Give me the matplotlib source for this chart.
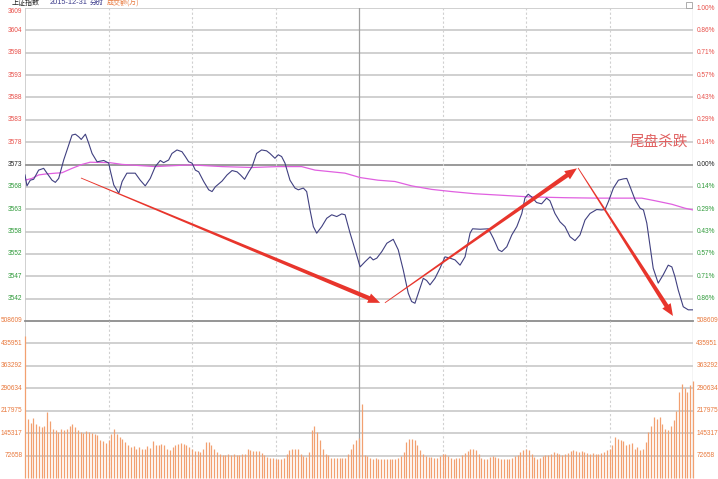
import numpy as np
import matplotlib
matplotlib.use("Agg")
import matplotlib.pyplot as plt
from matplotlib.patches import Polygon, Rectangle
from matplotlib.transforms import IdentityTransform

plt.rcParams['font.family'] = ['Noto Sans CJK SC', 'DejaVu Sans']

# ---------------- data ----------------
prev_close = 3572.88
title_date = "2015-12-31"

price_min = [0, 0.7, 1.9, 3.1, 4.9, 6.7, 7.9, 9.7, 10.9, 12.1, 13.9, 15.1, 16.9, 18.1, 19.3, 20.2,
             21.7, 22.9, 24.1, 25.9, 28.3, 30.1, 30.6, 31.9, 33.7, 34.9, 36.6, 39.6, 41.4, 43.2,
             45.0, 46.8, 48.6, 49.8, 51.6, 52.8, 54.6, 56.4, 57.6, 58.8, 60.0, 61.2, 62.4, 64.2,
             66.0, 67.2, 68.4, 70.8, 72.6, 74.4, 76.2, 77.4, 78.9, 80.4, 81.6, 83.2, 85.0, 86.8,
             88.0, 89.8, 91.0, 92.2, 93.4, 95.2, 97.0, 98.2, 100.0, 101.2, 102.4, 103.6, 104.8,
             106.6, 108.4, 110.2, 112.0, 113.8, 115.0, 116.8, 118.6, 120.4, 122.2, 124.0, 125.1,
             126.4, 128.2, 130.0, 132.3, 134.1, 135.9, 137.7, 138.9, 140.1, 141.3, 143.1, 144.3,
             145.5, 147.3, 149.1, 150.9, 152.7, 154.5, 156.3, 158.1, 159.9, 160.8, 163.5, 166.5,
             168.3, 170.1, 171.3, 173.1, 174.9, 176.7, 178.5, 179.6, 180.8, 182.0, 183.8, 185.6,
             187.4, 188.6, 190.4, 192.2, 194.0, 195.8, 197.6, 199.4, 201.2, 203.0, 205.4, 207.2,
             208.4, 209.6, 211.4, 213.2, 215.0, 216.2, 217.4, 219.2, 221.0, 222.2, 223.4, 224.6,
             225.7, 227.5, 229.3, 231.1, 232.4, 233.5, 234.7, 236.5, 238.3, 240.0]
price_val = [3570.5, 3568.0, 3569.3, 3569.5, 3571.6, 3572.0, 3570.9, 3569.3, 3568.8, 3569.7, 3573.9,
             3576.2, 3579.6, 3579.8, 3579.2, 3578.6, 3579.8, 3577.7, 3575.4, 3573.5, 3573.8, 3573.2,
             3571.6, 3568.2, 3566.3, 3569.0, 3570.9, 3570.9, 3569.3, 3568.0, 3569.7, 3572.4, 3573.8,
             3573.3, 3573.9, 3575.4, 3576.2, 3575.8, 3574.7, 3573.5, 3573.2, 3571.6, 3571.2, 3569.0,
             3567.1, 3566.7, 3567.8, 3569.1, 3570.5, 3571.5, 3571.2, 3570.5, 3569.5, 3571.2, 3572.4,
             3575.4, 3576.2, 3576.0, 3575.4, 3574.3, 3575.1, 3574.7, 3573.2, 3569.3, 3567.5, 3567.1,
             3567.5, 3566.7, 3562.5, 3558.7, 3557.2, 3558.7, 3560.6, 3561.4, 3561.0, 3561.6, 3561.4,
             3557.2, 3553.4, 3549.5, 3550.7, 3551.8, 3551.1, 3551.5, 3553.0, 3554.9, 3555.8, 3553.4,
             3548.8, 3543.5, 3541.6, 3541.2, 3543.5, 3546.9, 3546.4, 3545.4, 3546.9, 3549.2, 3551.8,
             3551.5, 3551.1, 3549.9, 3551.8, 3557.2, 3558.2, 3558.1, 3558.2, 3556.0, 3553.4, 3553.0,
             3554.1, 3556.8, 3558.7, 3561.7, 3565.2, 3566.1, 3565.5, 3564.2, 3563.9, 3565.2, 3564.6,
             3561.7, 3559.8, 3558.7, 3556.4, 3555.5, 3556.8, 3560.2, 3561.7, 3562.6, 3562.5, 3562.6,
             3564.4, 3567.5, 3569.3, 3569.6, 3569.7, 3567.8, 3564.8, 3562.9, 3562.5, 3559.5, 3554.1,
             3549.2, 3545.8, 3547.7, 3549.9, 3549.5, 3547.3, 3544.2, 3540.4, 3539.7, 3539.7]

avg_min = [0, 2.5, 4.9, 7.3, 10.9, 13.3, 16.9, 20.5, 23.4, 30.5, 34.9, 46.8, 59.3, 70.8, 81.6, 90.9,
           99.4, 104.2, 115.0, 120.4, 126.8, 132.9, 138.9, 146.1, 153.3, 161.7, 170.1, 180.8, 194.0,
           206.0, 221.6, 226.4, 232.4, 237.1, 240.0]
avg_val = [3569.3, 3569.7, 3570.5, 3570.7, 3570.9, 3571.0, 3572.0, 3572.9, 3573.4, 3573.3, 3572.9,
           3572.4, 3572.8, 3572.4, 3572.2, 3572.4, 3572.4, 3571.6, 3570.9, 3569.9, 3569.3, 3569.0,
           3568.0, 3567.2, 3566.7, 3566.2, 3565.9, 3565.5, 3565.3, 3565.2, 3565.2, 3564.6, 3563.8,
           3562.9, 3562.5]

volume = [460000, 192000, 178000, 195000, 176000, 167000, 165000, 167000, 213000, 186000,
          160000, 156000, 149000, 160000, 154000, 160000, 167000, 176000, 165000, 154000,
          149000, 147000, 152000, 149000, 146000, 144000, 138000, 122000, 119000, 114000,
          122000, 144000, 160000, 144000, 133000, 127000, 117000, 106000, 101000, 103000,
          95000, 101000, 95000, 95000, 103000, 97000, 120000, 106000, 106000, 111000,
          106000, 95000, 92000, 101000, 106000, 109000, 114000, 111000, 106000, 101000,
          95000, 88000, 88000, 85000, 95000, 117000, 117000, 106000, 95000, 85000,
          77000, 74000, 74000, 77000, 74000, 77000, 74000, 74000, 77000, 79000,
          95000, 90000, 88000, 88000, 88000, 81000, 74000, 69000, 66000, 66000,
          63000, 60000, 60000, 66000, 77000, 90000, 95000, 95000, 95000, 77000,
          71000, 69000, 85000, 154000, 170000, 149000, 122000, 95000, 77000, 74000,
          66000, 66000, 66000, 66000, 66000, 66000, 77000, 95000, 110000, 122000,
          130000, 240000, 74000, 71000, 66000, 63000, 66000, 63000, 63000, 60000,
          60000, 63000, 63000, 63000, 66000, 71000, 85000, 117000, 127000, 127000,
          122000, 106000, 92000, 77000, 71000, 69000, 69000, 66000, 66000, 71000,
          77000, 77000, 71000, 66000, 63000, 66000, 66000, 74000, 81000, 88000,
          95000, 95000, 90000, 79000, 66000, 63000, 60000, 69000, 71000, 69000,
          66000, 63000, 63000, 61000, 63000, 66000, 71000, 74000, 85000, 92000,
          95000, 90000, 79000, 69000, 63000, 66000, 71000, 74000, 74000, 77000,
          85000, 81000, 77000, 74000, 79000, 81000, 88000, 90000, 88000, 85000,
          88000, 85000, 81000, 79000, 81000, 79000, 79000, 81000, 85000, 90000,
          95000, 106000, 133000, 127000, 124000, 120000, 106000, 111000, 114000, 95000,
          101000, 90000, 95000, 117000, 149000, 170000, 199000, 192000, 199000, 176000,
          160000, 154000, 170000, 188000, 218000, 277000, 304000, 293000, 277000, 302000,
          315000]

price_labels = ['3609', '3604', '3598', '3593', '3588', '3583', '3578', '3573',
                '3568', '3563', '3558', '3552', '3547', '3542']
pct_labels = ['1.00%', '0.86%', '0.71%', '0.57%', '0.43%', '0.29%', '0.14%', '0.00%',
              '0.14%', '0.29%', '0.43%', '0.57%', '0.71%', '0.86%']
vol_ticks = [508609, 435951, 363292, 290634, 217975, 145317, 72658]
vol_labels = ['508609', '435951', '363292', '290634', '217975', '145317', '72658']

annot_text = "尾盘杀跌"

# ---------------- style ----------------
W, H = 718, 479
RED = '#e8504a'
GREEN = '#2f9a3a'
ORANGE = '#e8783c'
GRID = '#c4c4c4'
LINE = '#404080'
AVG = '#e060e0'
BAR = '#f2a070'
ARROW = '#e8352c'
NUMFONT = ['Liberation Sans', 'DejaVu Sans']

fig = plt.figure(figsize=(W / 100, H / 100), dpi=100)
fig.patch.set_facecolor('white')

xl, xr = 25, 693
y_top, y_mid, y_bot = 8, 321, 478
ax = fig.add_axes([xl / W, 1 - y_mid / H, (xr - xl) / W, (y_mid - y_top) / H])
axv = fig.add_axes([xl / W, 1 - y_bot / H, (xr - xl) / W, (y_bot - y_mid) / H])

pmin, pmax = prev_close * 0.99, prev_close * 1.01
ax.set_xlim(0, 240)
ax.set_ylim(pmin, pmax)
axv.set_xlim(0, 240)
axv.set_ylim(0, vol_ticks[0])

for a in (ax, axv):
    for s in a.spines.values():
        s.set_visible(False)
    a.set_xticks([])
    a.set_yticks([])

# horizontal grid in price panel
levels = [prev_close * (1 + k / 700) for k in range(7, -8, -1)]
for k, lv in zip(range(7, -8, -1), levels):
    if k == 0:
        ax.axhline(lv, color='#9a9a9a', lw=1.4, zorder=1)
    elif k == -7:
        pass
    else:
        ax.axhline(lv, color=GRID, lw=1.1, zorder=1)
# horizontal grid in volume panel
for i, v in enumerate(vol_ticks):
    if i == 0:
        axv.axhline(v, color='#8c8c8c', lw=1.3, zorder=1, clip_on=False)
    else:
        axv.axhline(v, color=GRID, lw=1.1, zorder=1)

# vertical grid
for a in (ax, axv):
    for xv in range(30, 240, 30):
        if xv == 120:
            a.axvline(xv, color='#a0a0a0', lw=0.9, zorder=1)
        else:
            a.axvline(xv, color='#d0d0d0', lw=0.8, ls=(0, (2, 2)), zorder=1)
    a.axvline(0, color='#c8c8c8', lw=1.2, zorder=0.5)
    a.axvline(240, color='#c8c8c8', lw=1.0, zorder=0.5)

# series
ax.plot(avg_min, avg_val, color=AVG, lw=0.9, zorder=3)
ax.plot(price_min, price_val, color=LINE, lw=0.8, zorder=4)
minutes = np.arange(len(volume))
axv.vlines(minutes, 0, volume, color=BAR, lw=0.9, zorder=2, clip_on=False)

# axis labels
fs = 4.7
for k, lv, pl, cl in zip(range(7, -7, -1), levels, price_labels, pct_labels):
    col = RED if k > 0 else ('#222222' if k == 0 else GREEN)
    va = 'top' if k == 7 else 'center'
    ax.text(-0.9, lv, pl, color=col, fontsize=fs, ha='right', va=va,
            clip_on=False, family=NUMFONT)
    ax.text(1.005, lv, cl, color=col, fontsize=fs, ha='left', va='center',
            transform=ax.get_yaxis_transform(), clip_on=False, family=NUMFONT)
for v, lab in zip(vol_ticks, vol_labels):
    axv.text(-0.9, v, lab, color=ORANGE, fontsize=fs, ha='right', va='center', clip_on=False,
             family=NUMFONT)
    axv.text(1.005, v, lab, color=ORANGE, fontsize=fs, ha='left', va='center', clip_on=False,
             transform=axv.get_yaxis_transform(), family=NUMFONT)

# header
hy = 1 - 3.0 / H
fig.text(12 / W, hy, "上证指数", fontsize=5.0, color='#222222', va='center', ha='left')
fig.text(50 / W, hy, title_date, fontsize=5.3, color='#3a3a8a', va='center', ha='left',
         family=NUMFONT)
fig.text(90 / W, hy, "分时", fontsize=5.0, color='#3a3a8a', va='center', ha='left')
fig.text(107 / W, hy, "成交额(万)", fontsize=5.0, color=ORANGE, va='center', ha='left')
fig.add_artist(Rectangle((686 / W, 1 - 8 / H), 6 / W, 6 / H, transform=fig.transFigure,
                         fill=False, ec='#a0a0a0', lw=0.6))

# annotation text
ax.text(227.8, 3578.0, annot_text, color='#e06060', fontsize=10.5, ha='center', va='center',
        zorder=6)

# tapered arrows
arrows = [((20.1, 3569.8), (127.6, 3541.3)),
          ((129.3, 3541.3), (198.3, 3572.0)),
          ((198.7, 3572.1), (232.8, 3538.3))]


def taper_arrow(a, p0, p1, w0=0.8, w1=4.4, head_len=12, head_w=10, color=ARROW):
    T = a.transData
    s = np.array(T.transform(p0))
    e = np.array(T.transform(p1))
    d = e - s
    L = np.hypot(*d)
    u = d / L
    n = np.array([-u[1], u[0]])
    base = e - u * head_len
    pts = [s + n * w0 / 2, base + n * w1 / 2, base + n * head_w / 2, e,
           base - n * head_w / 2, base - n * w1 / 2, s - n * w0 / 2]
    fig.add_artist(Polygon(pts, closed=True, transform=IdentityTransform(), fc=color, ec='none',
                           zorder=7))


for p0, p1 in arrows:
    taper_arrow(ax, p0, p1)

fig.savefig('out.png', dpi=100, facecolor='white')
